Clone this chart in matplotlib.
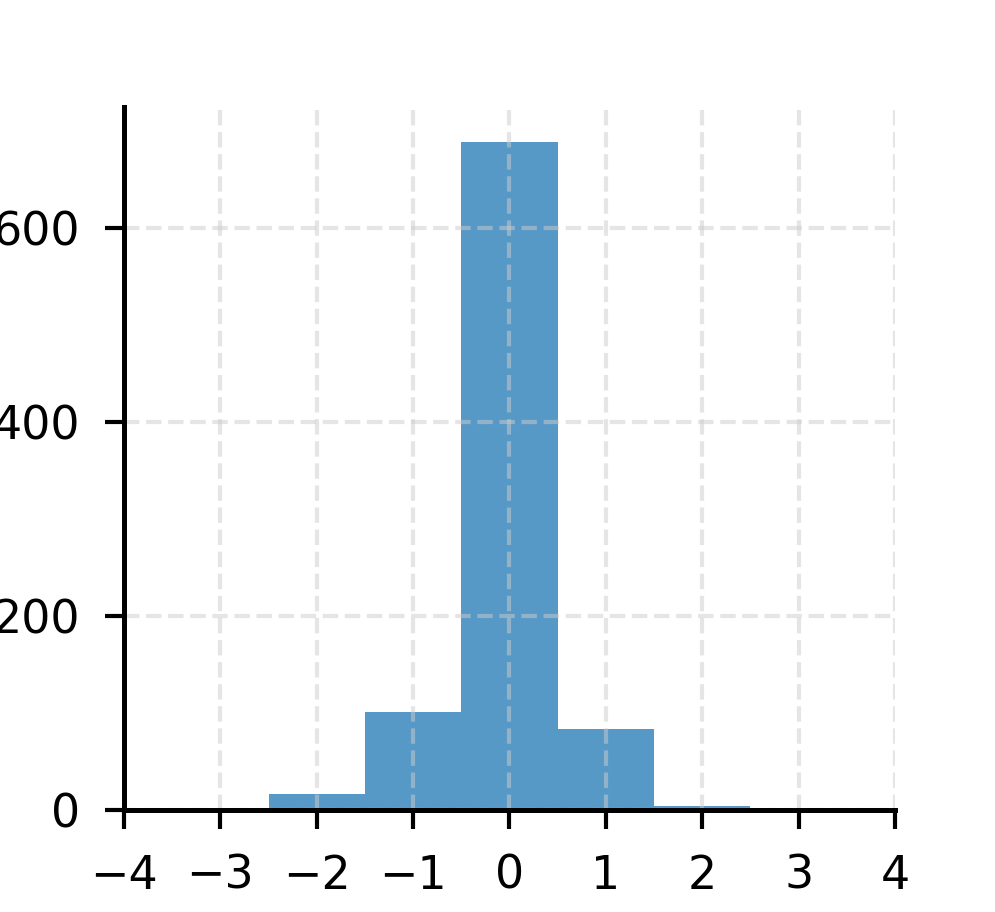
import numpy as np
import matplotlib
matplotlib.use("Agg")
import matplotlib.pyplot as plt

# histogram bins (edges) and counts
bin_edges = [-2.5, -1.5, -0.5, 0.5, 1.5, 2.5]
counts = [17, 101, 688, 84, 4]
xticks = [-4, -3, -2, -1, 0, 1, 2, 3, 4]
yticks = [0, 200, 400, 600]

plt.rcParams['font.size'] = 11

fig = plt.figure(figsize=(995 / 300, 912 / 300), dpi=300)
ax = fig.add_axes([0.1246, 0.1118, 0.7749, 0.7709])

centers = 0.5 * (np.array(bin_edges[:-1]) + np.array(bin_edges[1:]))
ax.hist(centers, bins=bin_edges, weights=counts, color='tab:blue', alpha=0.75)

ax.set_xlim(-4, 4)
ax.set_ylim(0, max(counts) * 1.053)
ax.set_xticks(xticks)
ax.set_yticks(yticks)

ax.grid(True, linestyle='--', color='#cccccc', alpha=0.5, linewidth=1.0)
ax.spines['top'].set_visible(False)
ax.spines['right'].set_visible(False)
for s in ['left', 'bottom']:
    ax.spines[s].set_linewidth(1.2)
ax.tick_params(width=1.0, length=4.5, pad=6)

fig.savefig("out.png", dpi=300)
